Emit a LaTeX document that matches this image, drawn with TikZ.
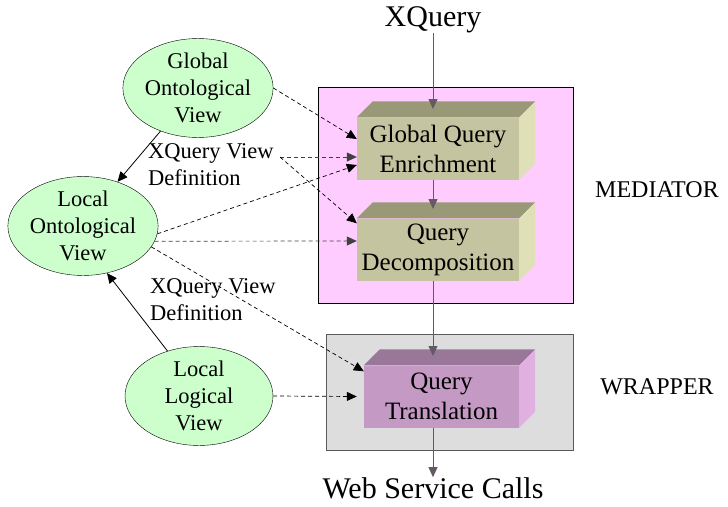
\documentclass[tikz,border=0pt]{standalone}
\usepackage{fontspec}
\setmainfont{Liberation Serif}
\usetikzlibrary{shapes.geometric,arrows.meta}

\definecolor{mediatorpink}{RGB}{255,204,255}
\definecolor{wrappergray}{RGB}{221,221,221}
\definecolor{viewgreen}{RGB}{204,255,204}
\definecolor{olivefront}{RGB}{196,196,160}
\definecolor{olivetop}{RGB}{153,153,119}
\definecolor{oliveside}{RGB}{224,224,184}
\definecolor{mauvefront}{RGB}{196,153,196}
\definecolor{mauvetop}{RGB}{153,119,153}
\definecolor{mauveside}{RGB}{224,176,224}
\definecolor{flowgray}{RGB}{100,90,100}

% top and right faces of a box node
\newcommand{\cubefaces}[3]{%
  \fill[#2] (#1.north west) -- ++(16pt,16pt) -- ([shift={(16pt,16pt)}]#1.north east) -- (#1.north east) -- cycle;
  \fill[#3] (#1.north east) -- ++(16pt,16pt) -- ([shift={(16pt,16pt)}]#1.south east) -- (#1.south east) -- cycle;
}

\begin{document}
\begin{tikzpicture}[x=1pt,y=-1pt,>={Triangle[length=10pt,width=9pt]}]
            \useasboundingbox (0,0) rectangle (728,506);

            \begin{scope}[every node/.style={rectangle,inner sep=0pt}]
                \node[draw=black,fill=mediatorpink,minimum width=255pt,minimum height=216pt] (mediator) at (445.5,195) {};
                \node[draw=black!65,fill=wrappergray,minimum width=247pt,minimum height=116pt] (wrapper) at (449.5,392) {};
            \end{scope}

            \begin{scope}[every node/.style={rectangle,inner sep=0pt,minimum height=62pt,align=center,font=\fontsize{25}{30}\selectfont}]
                \node[fill=olivefront,minimum width=162pt] (gqe) at (438,148.5) {Global Query\\Enrichment};
                \node[fill=olivefront,minimum width=162pt] (qd) at (438,249.5) {Query\\Decomposition};
                \node[fill=mauvefront,minimum width=155pt] (qt) at (441.5,396.5) {Query\\Translation};
            \end{scope}
            \cubefaces{gqe}{olivetop}{oliveside}
            \cubefaces{qd}{olivetop}{oliveside}
            \cubefaces{qt}{mauvetop}{mauveside}

            \begin{scope}[every node/.style={ellipse,draw,fill=viewgreen,inner sep=0pt,minimum width=148pt,minimum height=92pt,align=center,font=\fontsize{22.5}{27}\selectfont}]
                \node (gov) at (198,88) {Global\\Ontological\\View};
                \node (lov) at (83,226) {Local\\Ontological\\View};
                \node (llv) at (199,396) {Local\\Logical\\View};
            \end{scope}

            \begin{scope}[every node/.style={inner sep=0pt}]
                \node[font=\fontsize{30}{36}\selectfont] (xq) at (433,20) {XQuery};
                \node[font=\fontsize{30}{36}\selectfont] (wsc) at (433,488) {Web Service Calls};
                \node[font=\fontsize{24}{29}\selectfont] (med) at (657,190) {MEDIATOR};
                \node[font=\fontsize{24}{29}\selectfont] (wrp) at (657,387) {WRAPPER};
                \node[anchor=north west,align=left,font=\fontsize{22.5}{27}\selectfont] (xvd1) at (148,143) {XQuery View\\Definition};
                \node[anchor=north west,align=left,font=\fontsize{22.5}{27}\selectfont] (xvd2) at (150,278) {XQuery View\\Definition};
            \end{scope}

            \coordinate (xvend) at (280,157);
            \coordinate (gqein) at (433,109);
            \coordinate (qdin) at (433,209);
            \coordinate (qtin) at (433,356);

            \begin{scope}[line width=0.8pt]
                \path [->] (xq.south) edge[flowgray] (gqein);
                \path [->] (gqe.south -| xq.south) edge[flowgray] (qdin);
                \path [->] (qd.south -| xq.south) edge[flowgray] (qtin);
                \path [->] (qt.south -| xq.south) edge[flowgray] (wsc.north);
                \path [->] (gov.-131) edge (lov.52);
                \path [->] (llv.125) edge (lov.-63);
            \end{scope}

            \begin{scope}[line width=0.7pt,dash pattern=on 4pt off 3pt]
                \path [->] (gov.east) edge ([yshift=9.5pt]gqe.west);
                \path [->] (xvend) edge[black!75] ([yshift=-8.5pt]gqe.west);
                \path [->] (xvend) edge ([yshift=-5pt]qd.north west);
                \path [->] (lov.-6) edge ([yshift=-16.5pt]gqe.west);
                \path [->] (lov.-12) edge[black!75] ([yshift=8.5pt]qd.west);
                \path [->] (lov.-17) edge ([yshift=-6pt]qt.north west);
                \path [->] (llv.east) edge ([xshift=-7pt]qt.west);
            \end{scope}
            \end{tikzpicture}
\end{document}
